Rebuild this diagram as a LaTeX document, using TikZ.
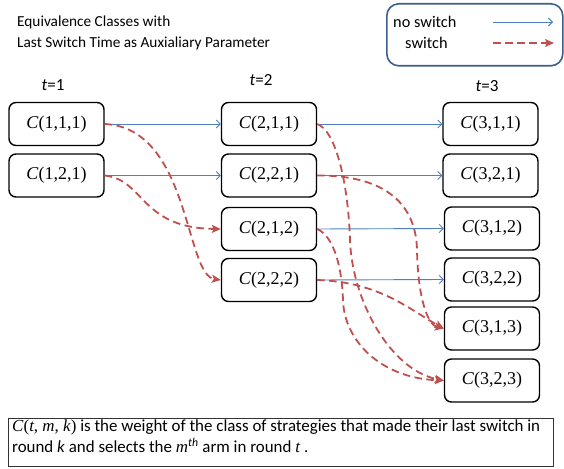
\documentclass[tikz,border=0pt]{standalone}
\usepackage{fontspec}
\setmainfont{Carlito}
\newfontfamily\cfont{Liberation Serif}
\usetikzlibrary{arrows.meta}
\definecolor{nsblue}{HTML}{4F81BD}
\definecolor{swred}{HTML}{C0504D}
\definecolor{legborder}{HTML}{3A5F8B}
\newcommand{\cls}[3]{{\cfont\textit{C}(#1,#2,#3)}}
\tikzset{
  cbox/.style={draw=black, line width=1.4pt, rounded corners=7pt, minimum width=95pt, minimum height=43pt, inner sep=0pt, font=\fontsize{18}{21}\selectfont},
  noswitch/.style={draw=nsblue, line width=0.9pt, -{Straight Barb[length=4pt,width=8pt]}},
  switcharrow/.style={draw=swred, line width=1.8pt, dash pattern=on 7.5pt off 4.5pt, -{Stealth[length=9pt,width=8pt,inset=2pt]}},
  tlabel/.style={font=\fontsize{17}{20}\selectfont, inner sep=0pt},
  plain/.style={font=\fontsize{15.3}{21}\selectfont, inner sep=0pt},
  legtext/.style={font=\fontsize{16.3}{20}\selectfont, inner sep=0pt},
  notetext/.style={font=\fontsize{16.9}{21}\selectfont, inner sep=0pt},
}
\begin{document}
\begin{tikzpicture}[x=1pt,y=-1pt]
\useasboundingbox (0,0) rectangle (564,468);
% title
\node[plain, anchor=west, align=left] (title) at (17,32.5) {Equivalence Classes with\\Last Switch Time as Auxialiary Parameter};
% legend
\node[draw=legborder, line width=1.6pt, rounded corners=12pt, minimum width=176pt, minimum height=62pt, anchor=north west, inner sep=0pt] (legend) at (386,3) {};
\node[legtext, anchor=west] (nslabel) at (393,22) {no switch};
\node[legtext, anchor=west] (swlabel) at (405,43) {switch};
\coordinate (ns1) at (493,22);
\coordinate (ns2) at (553,22);
\coordinate (sw1) at (493,43);
\coordinate (sw2) at (554,43);
\draw[noswitch] (ns1) -- (ns2);
\draw[switcharrow] (sw1) -- (sw2);
% time labels
\node[tlabel] (t1) at (53,85) {\textit{t}=1};
\node[tlabel] (t2) at (261,80) {\textit{t}=2};
\node[tlabel] (t3) at (487,86) {\textit{t}=3};
% boxes
\node[cbox] (c111) at (56.5,124) {\cls{1}{1}{1}};
\node[cbox] (c121) at (56.5,175.5) {\cls{1}{2}{1}};
\node[cbox] (c211) at (269,124) {\cls{2}{1}{1}};
\node[cbox] (c221) at (269,175.5) {\cls{2}{2}{1}};
\node[cbox] (c212) at (269,229) {\cls{2}{1}{2}};
\node[cbox] (c222) at (269,280) {\cls{2}{2}{2}};
\node[cbox] (c311) at (490.5,124) {\cls{3}{1}{1}};
\node[cbox] (c321) at (490.5,175.5) {\cls{3}{2}{1}};
\node[cbox] (c312) at (492,228.5) {\cls{3}{1}{2}};
\node[cbox] (c322) at (492,279.5) {\cls{3}{2}{2}};
\node[cbox] (c313) at (492,328.5) {\cls{3}{1}{3}};
\node[cbox] (c323) at (492,380.5) {\cls{3}{2}{3}};
% no switch arrows
\draw[noswitch] (c111.east) -- (c211.west);
\draw[noswitch] (c121.east) -- (c221.west);
\draw[noswitch] (c211.east) -- (c311.west);
\draw[noswitch] (c221.east) -- (c321.west);
\draw[noswitch] (c212.east) -- (c312.west);
\draw[noswitch] (c222.east) -- (c322.west);
% switch arrows
\draw[switcharrow] (c111.east) .. controls (190,128) and (185,275) .. (c222.west);
\draw[switcharrow] (c121.east) .. controls (145,180) and (140,228) .. (c212.west);
\draw[switcharrow] (c211.east) .. controls (335,130) and (348,180) .. (350,240) .. controls (352,300) and (390,370) .. (c323.west);
\draw[switcharrow] (c212.east) .. controls (335,237) and (342,270) .. (343,300) .. controls (344,340) and (380,378) .. (c323.west);
\draw[switcharrow] (c221.east) .. controls (380,175) and (416,200) .. (417,250) .. controls (418,300) and (428,325) .. (c313.west);
\draw[switcharrow] (c222.east) .. controls (380,282) and (410,310) .. (c313.west);
% note
\node[draw=black!80, line width=0.9pt, minimum width=545pt, minimum height=48pt, anchor=north west, inner sep=0pt] (notebox) at (8,418) {};
\node[notetext, anchor=north west, align=left] (note) at (12,420) {{\cfont\textit{C}(\textit{t}, \textit{m}, \textit{k})} is the weight of the class of strategies that made their last switch in\\round \textit{k} and selects the {\cfont\textit{m}}\textsuperscript{\textit{th}} arm in round {\cfont\textit{t}} .};
\end{tikzpicture}
\end{document}
